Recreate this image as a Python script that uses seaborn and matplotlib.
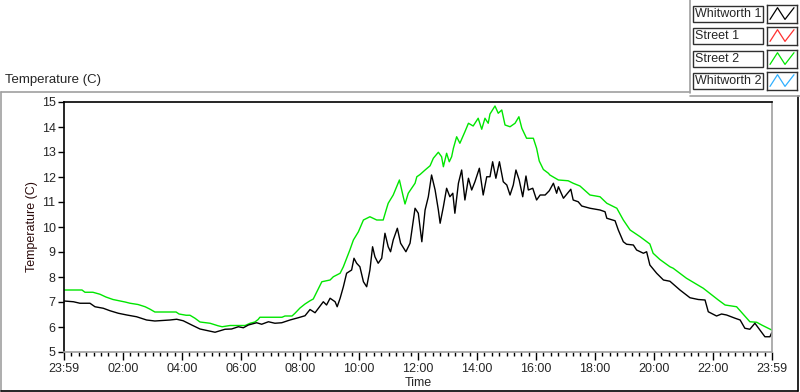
import numpy as np
import pandas as pd
import matplotlib
matplotlib.use("Agg")
import matplotlib.pyplot as plt
from matplotlib.lines import Line2D
from matplotlib.patches import Rectangle
import seaborn as sns

# hours after 23:59, temperature (C)
street2_h = [0.00, 0.61, 0.71, 0.98, 1.22, 1.42, 1.66, 2.07, 2.24, 2.51, 2.75, 2.92, 3.08, 3.80, 3.90,
             4.14, 4.27, 4.44, 4.61, 4.95, 5.22, 5.36, 5.63, 6.14, 6.31, 6.47, 6.58, 6.64, 7.39, 7.49,
             7.73, 7.83, 8.00, 8.17, 8.34, 8.45, 8.74, 9.02, 9.13, 9.36, 9.47, 9.69, 9.81, 9.98, 10.15,
             10.37, 10.60, 10.82, 10.92, 10.99, 11.16, 11.37, 11.50, 11.56, 11.67, 11.90, 11.96, 12.07,
             12.24, 12.41, 12.52, 12.69, 12.80, 12.86, 12.97, 13.06, 13.14, 13.20, 13.31, 13.42, 13.59,
             13.71, 13.87, 14.04, 14.16, 14.27, 14.38, 14.44, 14.61, 14.72, 14.84, 14.95, 15.12, 15.29,
             15.42, 15.52, 15.68, 15.91, 16.02, 16.11, 16.25, 16.42, 16.47, 16.76, 17.09, 17.26, 17.49,
             17.83, 18.17, 18.40, 18.74, 18.96, 19.19, 19.53, 19.86, 19.97, 20.20, 20.54, 20.65, 21.10,
             21.67, 22.18, 22.41, 22.80, 23.25, 23.48, 23.65, 23.99]
street2_t = [7.48, 7.48, 7.39, 7.39, 7.31, 7.20, 7.10, 7.00, 6.95, 6.90, 6.81, 6.71, 6.60, 6.60, 6.52,
             6.47, 6.47, 6.35, 6.20, 6.15, 6.05, 6.01, 6.06, 6.06, 6.15, 6.20, 6.30, 6.39, 6.39, 6.44,
             6.44, 6.55, 6.76, 6.92, 7.05, 7.12, 7.81, 7.88, 8.01, 8.15, 8.41, 9.08, 9.48, 9.81, 10.28,
             10.41, 10.28, 10.28, 10.68, 10.95, 11.28, 11.88, 11.21, 10.92, 11.35, 11.75, 12.01, 12.10,
             12.28, 12.45, 12.75, 12.99, 12.81, 12.41, 12.95, 12.61, 12.81, 13.15, 13.61, 13.35, 13.81,
             14.15, 14.04, 14.35, 13.91, 14.35, 14.15, 14.52, 14.84, 14.55, 14.68, 14.08, 14.01, 14.15,
             14.41, 13.95, 13.55, 13.55, 13.15, 12.64, 12.30, 12.15, 12.08, 11.88, 11.85, 11.75, 11.64,
             11.28, 11.21, 10.95, 10.75, 10.28, 9.88, 9.61, 9.32, 8.95, 8.70, 8.41, 8.35, 7.95,
             7.55, 7.08, 6.88, 6.81, 6.21, 6.19, 6.08, 5.88]

whitworth1_h = [0.00, 0.32, 0.54, 0.88, 1.05, 1.33, 1.56, 1.84, 2.13, 2.46, 2.80, 3.08, 3.59, 3.82, 4.04,
                4.21, 4.33, 4.61, 4.89, 5.12, 5.29, 5.46, 5.68, 5.91, 6.08, 6.25, 6.53, 6.70, 6.93, 7.15,
                7.38, 7.66, 7.94, 8.17, 8.34, 8.51, 8.79, 8.90, 9.02, 9.19, 9.26, 9.36, 9.47, 9.58, 9.75,
                9.83, 9.92, 10.03, 10.15, 10.26, 10.37, 10.46, 10.54, 10.65, 10.77, 10.88, 10.99, 11.07,
                11.16, 11.30, 11.41, 11.59, 11.73, 11.90, 12.01, 12.13, 12.24, 12.35, 12.46, 12.58, 12.69,
                12.75, 12.86, 12.97, 13.08, 13.18, 13.25, 13.37, 13.48, 13.59, 13.71, 13.82, 13.93, 14.08,
                14.21, 14.33, 14.44, 14.53, 14.64, 14.76, 14.89, 15.01, 15.12, 15.23, 15.32, 15.43, 15.55,
                15.66, 15.74, 15.89, 16.02, 16.14, 16.31, 16.45, 16.59, 16.70, 16.76, 16.93, 17.18, 17.26,
                17.43, 17.55, 17.83, 18.17, 18.34, 18.40, 18.68, 18.79, 18.96, 19.07, 19.30, 19.41, 19.64,
                19.75, 19.86, 20.09, 20.32, 20.54, 20.88, 21.22, 21.50, 21.73, 21.84, 22.12, 22.29, 22.46,
                22.75, 22.92, 23.08, 23.25, 23.42, 23.59, 23.76, 23.93, 23.99]
whitworth1_t = [7.04, 7.01, 6.95, 6.95, 6.81, 6.75, 6.65, 6.55, 6.48, 6.41, 6.28, 6.24, 6.28, 6.31, 6.25,
                6.15, 6.08, 5.92, 5.85, 5.79, 5.85, 5.91, 5.92, 6.01, 5.97, 6.08, 6.17, 6.11, 6.21, 6.15,
                6.17, 6.28, 6.37, 6.45, 6.70, 6.57, 7.01, 6.88, 7.15, 7.01, 6.81, 7.15, 7.61, 8.15, 8.28,
                8.75, 8.55, 8.41, 7.81, 7.61, 8.28, 9.21, 8.81, 8.55, 8.75, 9.75, 9.21, 9.01,
                9.48, 9.95, 9.35, 9.01, 9.35, 10.75, 10.55, 9.41, 10.68, 11.21, 12.08, 11.48, 10.68,
                10.15, 10.81, 11.55, 11.21, 11.35, 10.55, 11.75, 12.28, 11.08, 11.95, 11.48, 11.81, 12.35,
                11.28, 12.01, 12.01, 12.61, 11.95, 12.61, 11.81, 11.68, 11.28, 11.68, 12.28, 11.88, 11.21,
                12.04, 11.48, 11.55, 11.08, 11.28, 11.28, 11.45, 11.75, 11.35, 11.61, 11.15, 11.51, 11.08,
                11.01, 10.84, 10.75, 10.68, 10.61, 10.35, 10.25, 9.88, 9.41, 9.31, 9.28, 9.08, 8.95,
                9.01, 8.48, 8.15, 7.88, 7.83, 7.48, 7.17, 7.10, 7.08, 6.61, 6.44, 6.52, 6.48,
                6.35, 6.28, 5.95, 5.91, 6.15, 5.88, 5.61, 5.61, 5.77]

tick_hours = [0, 2, 4, 6, 8, 10, 12, 14, 16, 18, 20, 22, 24]
tick_labels = ["23:59", "02:00", "04:00", "06:00", "08:00", "10:00", "12:00",
               "14:00", "16:00", "18:00", "20:00", "22:00", "23:59"]
legend_names = ["Whitworth 1", "Street 1", "Street 2", "Whitworth 2"]
legend_colors = ["#000000", "#ff3030", "#00e600", "#30b0ff"]

sns.set_style("white")
plt.rcParams['font.family'] = ['Liberation Sans', 'DejaVu Sans']

df = pd.concat([
    pd.DataFrame({"Time": whitworth1_h, "Temp": whitworth1_t, "Sensor": "Whitworth 1"}),
    pd.DataFrame({"Time": street2_h, "Temp": street2_t, "Sensor": "Street 2"}),
])

W, H = 800, 392
fig = plt.figure(figsize=(8, 3.92), dpi=100)
ax = fig.add_axes([64 / W, 1 - 352 / H, (772 - 64) / W, (352 - 102) / H])

sns.lineplot(data=df, x="Time", y="Temp", hue="Sensor", estimator=None, legend=False,
             palette={"Whitworth 1": legend_colors[0], "Street 2": legend_colors[2]},
             hue_order=["Street 2", "Whitworth 1"], linewidth=1.0, ax=ax)

ax.set_xlim(0, 24)
ax.set_ylim(5, 15)
ax.set_xticks(tick_hours)
ax.set_xticklabels(tick_labels)
ax.set_xticks(np.arange(0, 24.01, 0.25), minor=True)
ax.set_yticks(range(5, 16))
ax.tick_params(axis='x', which='major', length=6, width=1, color='black', labelsize=9, pad=2,
               bottom=True, direction='out')
ax.tick_params(axis='x', which='minor', length=3, width=1, color='black', bottom=True, direction='out')
ax.tick_params(axis='y', length=4, width=1, color='black', labelsize=9, pad=2, left=True, direction='out')
ax.set_xlabel("Time", fontsize=9, labelpad=1)
ax.set_ylabel("Temperature (C)", fontsize=9, color='#2a0a0a', labelpad=3)
for s in ['left', 'top']:
    ax.spines[s].set_color('black')
    ax.spines[s].set_linewidth(1.2)
for s in ['right', 'bottom']:
    ax.spines[s].set_color('#a0a0a0')
    ax.spines[s].set_linewidth(1.2)

fig.text(5 / W, 1 - 80 / H, "Temperature (C)", fontsize=9.5, ha='left', va='center')

# outer panel frame
def px_line(x0, y0, x1, y1, color, lw=1.2):
    fig.add_artist(Line2D([x0 / W, x1 / W], [1 - y0 / H, 1 - y1 / H], color=color, lw=lw))

px_line(0.5, 92, 690, 92, '#a0a0a0')
px_line(0.5, 92, 0.5, 391, '#a0a0a0')
px_line(0.5, 391, 798, 391, 'black')
px_line(798, 96, 798, 391, 'black')
px_line(690, 0, 690, 93, '#a0a0a0')
px_line(690, 96, 800, 96, '#a0a0a0')

# legend boxes
rows_y = [6, 28, 51, 73]
for name, color, y in zip(legend_names, legend_colors, rows_y):
    fig.add_artist(Rectangle((693 / W, 1 - (y + 16) / H), 70 / W, 16 / H, transform=fig.transFigure,
                             facecolor='white', edgecolor='#303030', lw=1))
    fig.text(695 / W, 1 - (y + 8) / H, name, fontsize=9, ha='left', va='center')
    iax = fig.add_axes([767 / W, 1 - (y + 17) / H, 30 / W, 18 / H])
    iax.plot([0.1, 0.35, 0.6, 0.9], [0.2, 0.85, 0.2, 0.85], color=color, lw=0.9)
    iax.set_xlim(0, 1)
    iax.set_ylim(0, 1)
    iax.set_xticks([])
    iax.set_yticks([])
    for s in iax.spines.values():
        s.set_color('#303030')
        s.set_linewidth(1)

fig.savefig("out.png", dpi=100)
